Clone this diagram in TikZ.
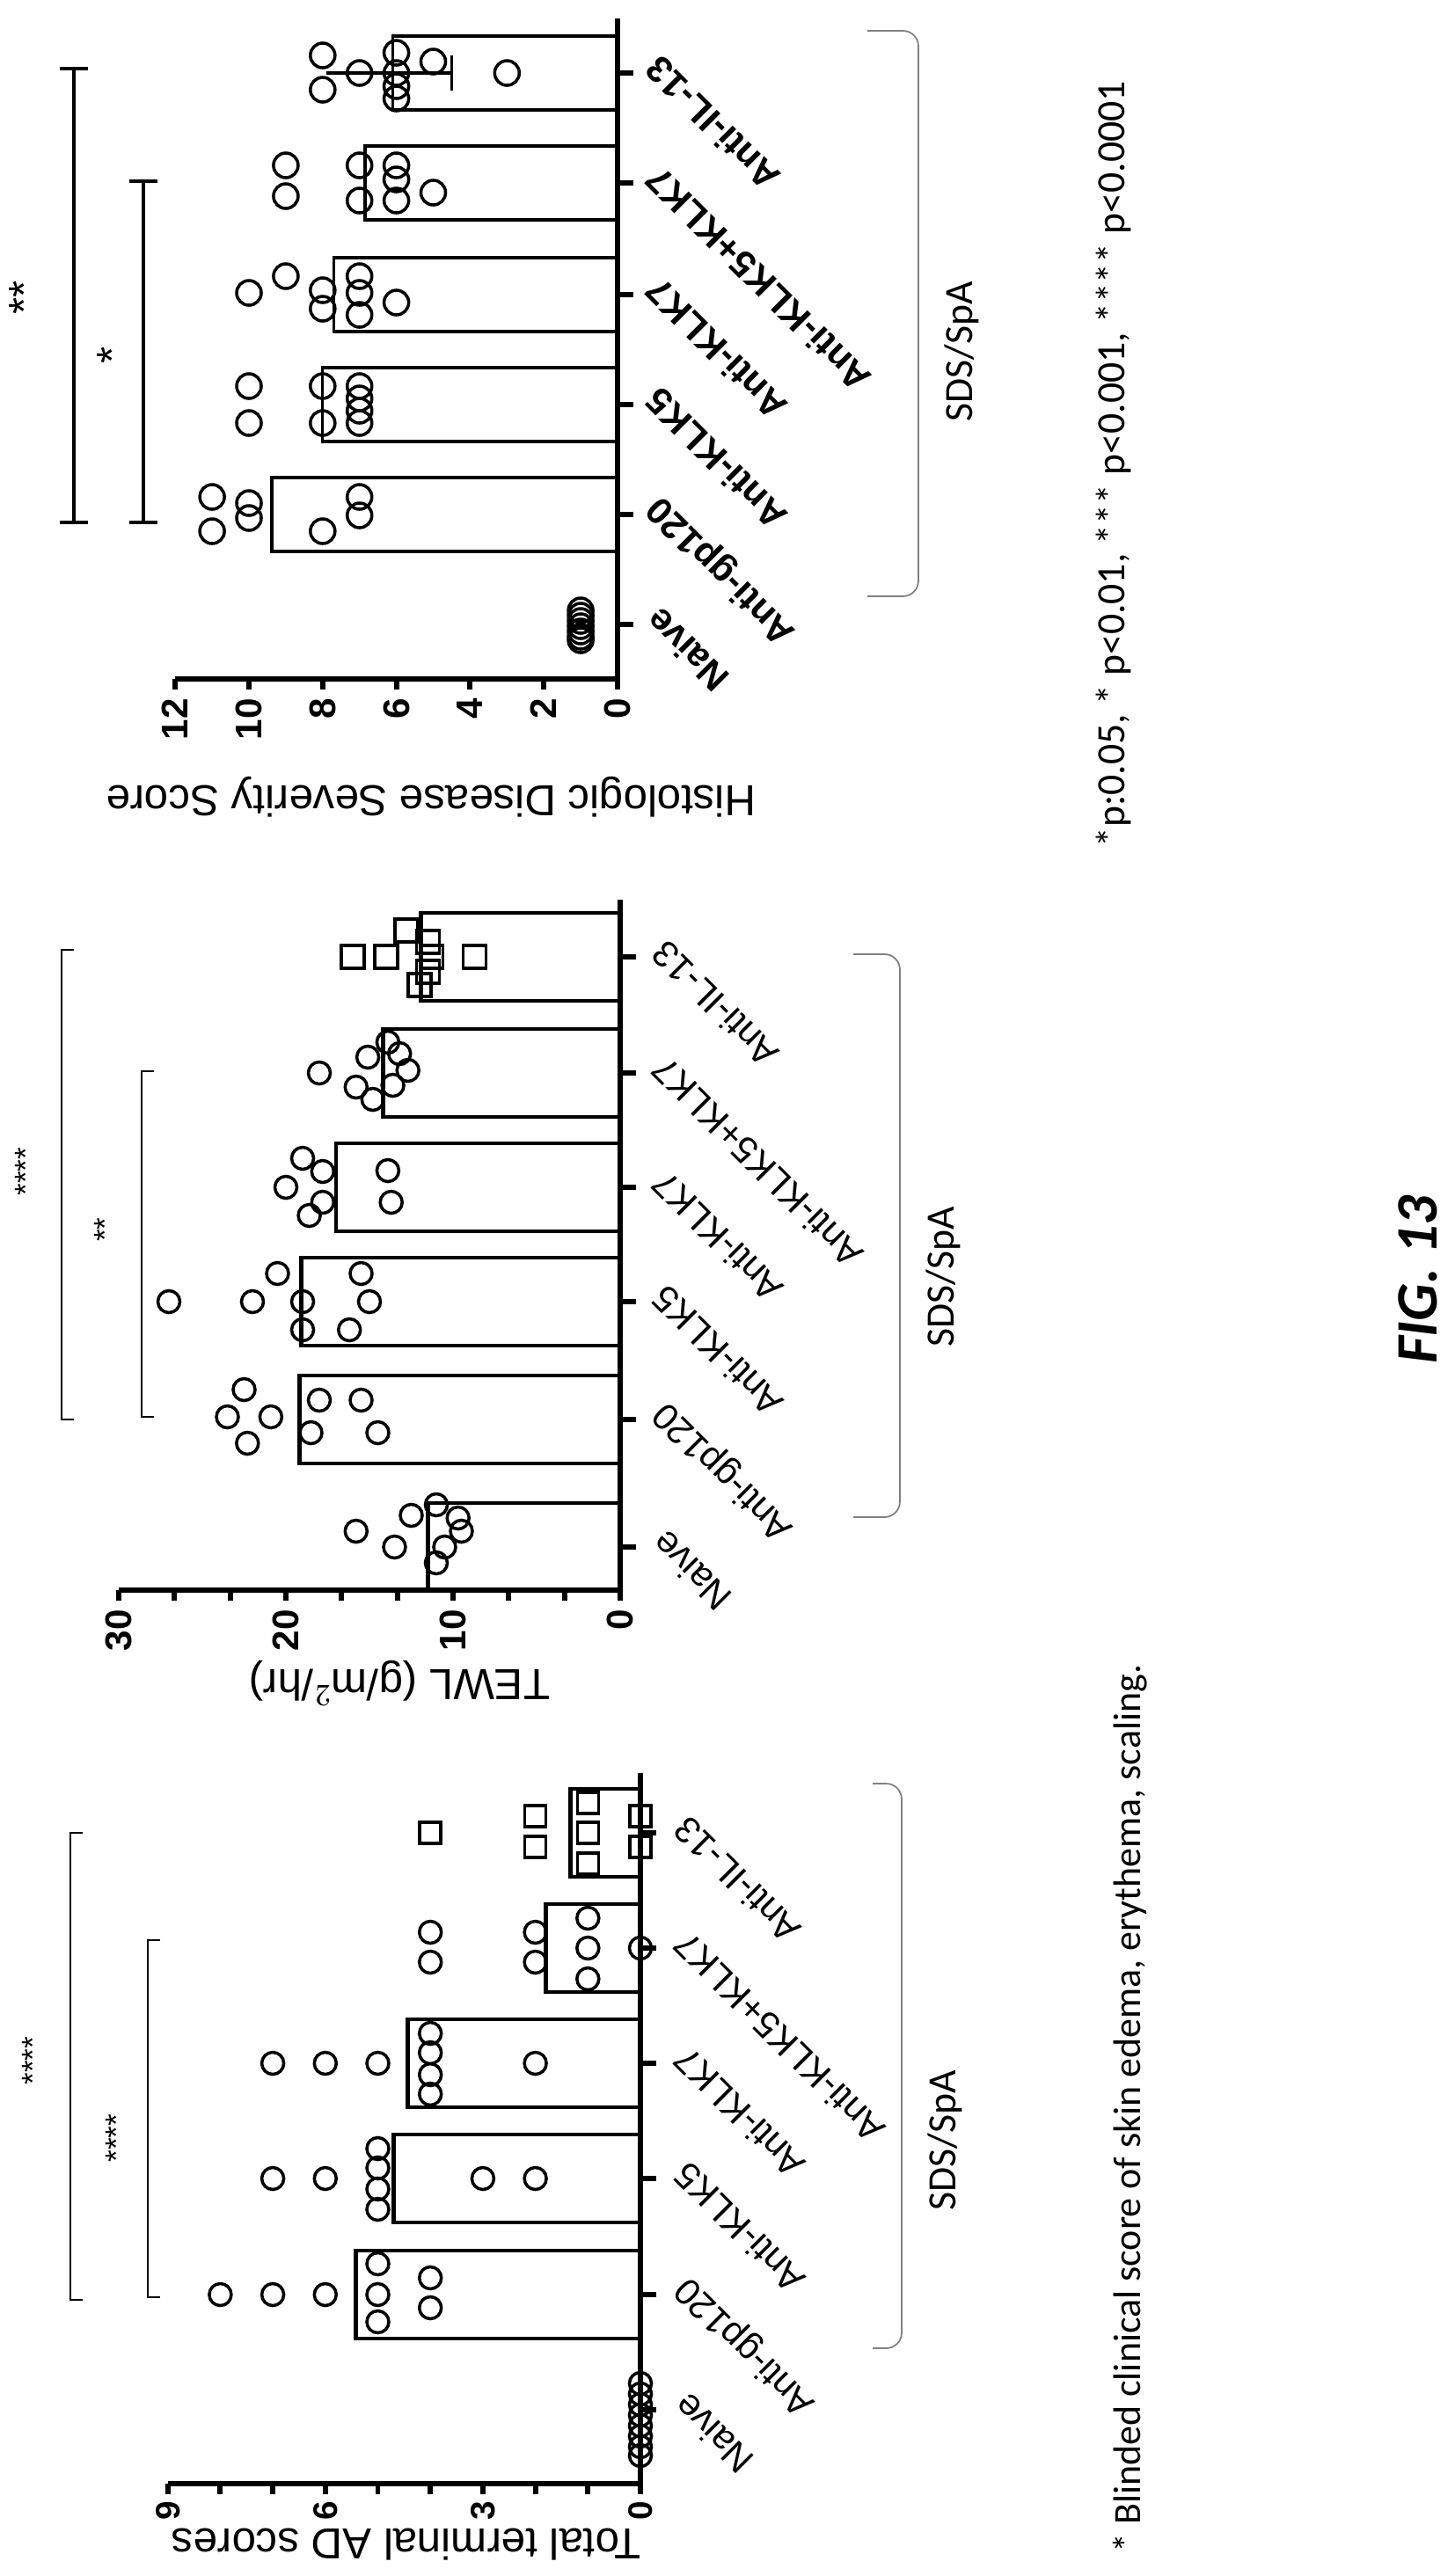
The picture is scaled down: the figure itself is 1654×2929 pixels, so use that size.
\documentclass[tikz,border=0pt]{standalone}
\usepackage{fontspec}
\setmainfont{Liberation Sans}
\newfontfamily\calib{Carlito}
\usetikzlibrary{positioning}

\begin{document}
\begin{tikzpicture}[
    x=0.01cm, y=-0.01cm,
    axis line/.style={line width=1.7pt},
    bar/.style={line width=1.4pt},
    thin bar/.style={line width=0.9pt},
    dot/.style={line width=1pt},
    sig/.style={line width=0.5pt},
    bold sig/.style={line width=1.2pt},
    tick label/.style={font=\fontsize{12}{14}\selectfont\bfseries, rotate=90, anchor=east, inner sep=1pt},
    cat label/.style={font=\fontsize{12}{14}\selectfont, rotate=135, anchor=north east, inner sep=1pt},
    cat bold/.style={font=\fontsize{12}{14}\selectfont\bfseries, rotate=135, anchor=north east, inner sep=1pt},
    axis title/.style={font=\fontsize{14}{16}\selectfont, rotate=180},
    note/.style={font=\calib\fontsize{13}{15}\selectfont, rotate=90}
]
\useasboundingbox (0,0) rectangle (1654,2929);

% Total terminal AD scores
\def\xo{728}\def\un{59.7}
\draw[axis line] (\xo,2016) -- (\xo,2824) -- (191,2824);
\foreach \v in {0,...,9} \draw[axis line] ({\xo-\un*\v},2824) -- ++(0,12);
\foreach \v in {0,3,6,9} \node[tick label, font=\fontsize{11}{13}\selectfont\bfseries] (adt\v) at ({\xo-\un*\v},2840) {\v};
\foreach \y/\v/\t [count=\i] in {2740/0/Naive,2609/5.42/Anti-gp120,2477/4.7/Anti-KLK5,2346/4.43/Anti-KLK7,2215/1.8/Anti-KLK5+KLK7,2084/1.33/Anti-IL-13}{
    \draw[axis line] (\xo,\y) -- ++(18,0);
    \node[cat label] (adc\i) at (\xo+28,\y) {\t};
    \ifdim\v pt>0pt \draw[bar] (\xo,\y-50) rectangle ({\xo-\un*\v},\y+50); \fi
}
\foreach \v/\y in {8/2609,7/2609,6/2609,5/2574,5/2609,5/2640,4/2590,4/2624,
    7/2477,6/2477,5/2443,5/2465,5/2489,5/2512,3/2477,2/2477,
    7/2346,6/2346,5/2346,4/2312,4/2334,4/2359,4/2381,2/2346,
    4/2197,4/2231,2/2197,2/2231,1/2181,1/2215,1/2250,0/2215,
    0/2710,0/2722,0/2734,0/2746,0/2758,0/2770,0/2782,0/2792}
    \draw[dot] ({\xo-\un*\v},\y) circle[radius=0.125cm];
\foreach \v/\y in {4/2084,2/2065,2/2100,1/2050,1/2084,1/2119,0/2065,0/2100}
    \draw[dot] ({\xo-\un*\v-12},\y-12) rectangle ++(24,24);
\node[axis title] (adtitle) at (462,2893) {Total terminal AD scores};
\draw[sig] (94,2084) -- (80,2084) -- (80,2615) -- (94,2615);
\draw[sig] (182,2206) -- (168,2206) -- (168,2612) -- (182,2612);
\node[rotate=90, font=\fontsize{10}{12}\selectfont] (adsa) at (37,2343) {****};
\node[rotate=90, font=\fontsize{10}{12}\selectfont] (adsb) at (132,2431) {****};
\draw[sig, gray, rounded corners=5] (992,2028) -- (1025,2028) -- (1025,2670) -- (992,2670);
\node[note] (adgroup) at (1074,2434) {SDS/SpA};

% TEWL
\def\xo{705}\def\un{19}
\draw[axis line] (\xo,1023) -- (\xo,1808) -- (135,1808);
\foreach \v in {0,3.333,6.667,10,13.333,16.667,20,23.333,26.667,30} \draw[axis line] ({\xo-\un*\v},1808) -- ++(0,12);
\foreach \v in {0,10,20,30} \node[tick label] (tet\v) at ({\xo-\un*\v},1826) {\v};
\foreach \y/\v/\t [count=\i] in {1759/11.5/Naive,1614/19.2/Anti-gp120,1480/19.1/Anti-KLK5,1350/17.0/Anti-KLK7,1220/14.2/Anti-KLK5+KLK7,1088/11.9/Anti-IL-13}{
    \draw[axis line] (\xo,\y) -- ++(18,0);
    \node[cat label] (tec\i) at (\xo+26,\y) {\t};
    \draw[bar] (\xo,\y-50) rectangle ({\xo-\un*\v},\y+50);
}
\foreach \v/\y in {15.8/1741,13.5/1759,12.5/1723,11/1711,9.7/1726,9.5/1741,10.5/1759,11/1777,
    23.5/1611,22.5/1580,22.3/1641,20.9/1611,18/1592,18.5/1629,15.5/1592,14.5/1629,
    27/1480,20.5/1448,22/1480,19/1480,19/1512,15.5/1448,15/1480,16.2/1512,
    19/1317,17.8/1332,20/1350,17.8/1367,18.6/1382,13.9/1331,13.7/1367,
    15.1/1202,13.9/1185,13.2/1198,12.7/1217,13.6/1234,15.8/1236,14.8/1250,18/1220}
    \draw[dot] ({\xo-\un*\v},\y) circle[radius=0.125cm];
\foreach \v/\y in {16/1088,14/1088,8.7/1088,12.8/1058,11.5/1071,11.3/1088,11.5/1105,12/1120}
    \draw[dot] ({\xo-\un*\v-13},\y-13) rectangle ++(26,26);
\node[axis title] (tetitle) at (454,1914) {TEWL (g/m$^2$/hr)};
\draw[sig] (84,1080) -- (70,1080) -- (70,1614) -- (84,1614);
\draw[sig] (175,1218) -- (161,1218) -- (161,1611) -- (175,1611);
\node[rotate=90, font=\fontsize{10}{12}\selectfont] (tesa) at (29,1332) {****};
\node[rotate=90, font=\fontsize{10}{12}\selectfont] (tesb) at (119,1398) {**};
\draw[sig, gray, rounded corners=5] (970,1085) -- (1023,1085) -- (1023,1725) -- (970,1725);
\node[note] (tegroup) at (1072,1452) {SDS/SpA};

% Histologic Disease Severity Score
\def\xo{702}\def\un{41.9}
\draw[axis line] (\xo,21) -- (\xo,772) -- (199,772);
\foreach \v in {0,2,...,12} {
    \draw[axis line] ({\xo-\un*\v},772) -- ++(0,12);
    \node[tick label] (hit\v) at ({\xo-\un*\v},790) {\v};
}
\foreach \y/\v/\t [count=\i] in {710/0/Naive,585/9.38/Anti-gp120,460/8.0/Anti-KLK5,335/7.7/Anti-KLK7,208/6.85/Anti-KLK5+KLK7,83/6.1/Anti-IL-13}{
    \draw[axis line] (\xo,\y) -- ++(18,0);
    \node[cat bold] (hic\i) at (\xo+22,\y) {\t};
    \ifdim\v pt>0pt \draw[thin bar] (\xo,\y-42) rectangle ({\xo-\un*\v},\y+42); \fi
}
\foreach \v/\y in {11/565,11/604,10/572,10/589,7/565,7/586,8/604,
    10/439,10/481,8/439,8/481,7/439,7/453,7/467,7/481,
    10/333,9/314,8/330,8/351,7/314,7/333,7/358,6/344,
    9/188,9/223,7/188,7/228,6/188,6/204,6/228,5/219,
    8/63,8/102,7/83,6/60,6/83,6/98,6/112,5/70,3/83,
    1/694,1/700,1/706,1/712,1/718,1/724,1/728}
    \draw[dot] ({\xo-\un*\v},\y) circle[radius=0.14cm];
\draw[dot] ({\xo-\un*7.9},83) -- ({\xo-\un*4.5},83);
\draw[dot] ({\xo-\un*4.5},63) -- ({\xo-\un*4.5},103);
\node[axis title] (hititle) at (490,906) {Histologic Disease Severity Score};
\draw[bold sig] (68,78) -- (100,78) (84,78) -- (84,594) (68,594) -- (100,594);
\draw[bold sig] (147,206) -- (179,206) (163,206) -- (163,594) (147,594) -- (179,594);
\node[rotate=90, font=\fontsize{14}{16}\selectfont] (hisa) at (28,338) {**};
\node[rotate=90, font=\fontsize{14}{16}\selectfont] (hisb) at (128,404) {*};
\draw[sig, gray, rounded corners=5] (986,35) -- (1044,35) -- (1044,678) -- (986,678);
\node[note] (higroup) at (1093,400) {SDS/SpA};

% notes
\node[note, anchor=west] (pvals) at (1266,976) {*p:0.05, * p<0.01, *** p<0.001, **** p<0.0001};
\node[note, anchor=west, font=\calib\fontsize{12.5}{15}\selectfont] (blind) at (1285,2915) {* Blinded clinical score of skin edema, erythema, scaling.};
\node[rotate=90, font=\calib\fontsize{19}{22}\selectfont\bfseries\itshape] (fig) at (1612,1455) {FIG. 13};
\end{tikzpicture}
\end{document}
